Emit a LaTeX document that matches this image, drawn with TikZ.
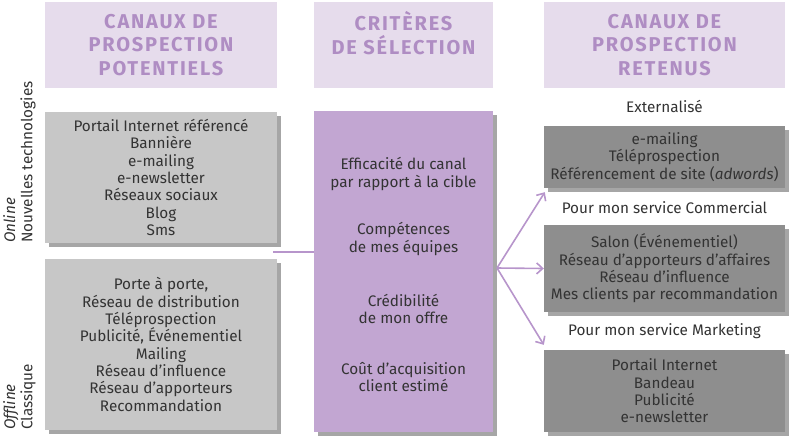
\documentclass[tikz,border=0pt]{standalone}
\usepackage{fontspec}
\setmainfont{Fira Sans}
\newfontfamily\headfont[LetterSpace=9]{Fira Sans}
\usetikzlibrary{shadows,arrows.meta}
\definecolor{hdrfill}{HTML}{E6DCEC}
\definecolor{hdrtext}{HTML}{AF8DC3}
\definecolor{midfill}{HTML}{C2A6D2}
\definecolor{lgray}{HTML}{C7C7C7}
\definecolor{dgray}{HTML}{8E8E8E}
\definecolor{txt}{HTML}{333333}
\definecolor{arr}{HTML}{B795CB}
\begin{document}
\begin{tikzpicture}[x=1pt,y=-1pt,
  hdr/.style={fill=hdrfill,draw=none,align=center,text=hdrtext,font=\headfont\bfseries\fontsize{20}{23.5}\selectfont,inner sep=0pt},
  body/.style={font=\fontsize{15.3}{17.3}\selectfont,text=txt,align=center,inner sep=0pt},
  shad/.style={drop shadow={shadow xshift=4pt,shadow yshift=-4pt,fill=black,opacity=0.35}},
  lbox/.style={body,fill=lgray,shad},
  rbox/.style={body,fill=dgray,shad},
  mbox/.style={fill=midfill,shad,inner sep=0pt},
  conn/.style={draw=arr,line width=1.6pt},
  arw/.style={conn,-{Straight Barb[length=6pt,width=11pt,line width=1.6pt]}},
  side/.style={body,align=left,rotate=90,anchor=north west}
]
\useasboundingbox (0,0) rectangle (800,445);
% headers
\node[hdr,minimum width=232,minimum height=86] (h1) at (161,45) {CANAUX DE\\PROSPECTION\\POTENTIELS};
\node[hdr,minimum width=179,minimum height=86,text depth=24pt] (h2) at (403.5,45) {CRITÈRES\\DE SÉLECTION};
\node[hdr,minimum width=241,minimum height=86] (h3) at (664.5,45) {CANAUX DE\\PROSPECTION\\RETENUS};
% left boxes
\node[lbox,minimum width=232,minimum height=131] (on) at (161,177.5) {Portail Internet référencé\\Bannière\\e-mailing\\e-newsletter\\Réseaux sociaux\\Blog\\Sms};
\node[lbox,minimum width=232,minimum height=171] (off) at (161,344.5) {Porte à porte,\\Réseau de distribution\\Téléprospection\\Publicité, Événementiel\\Mailing\\Réseau d'influence\\Réseau d’apporteurs\\Recommandation};
% side labels
\node[side] (sl1) at (3,243) {\textit{Online}\\Nouvelles technologies};
\node[side] (sl2) at (3,430) {\textit{Offline}\\Classique};
% middle box
\node[mbox,minimum width=179,minimum height=321] (mid) at (403.5,271.5) {};
\node[body] (c1) at (403.5,174) {Efficacité du canal\\par rapport à la cible};
\node[body] (c2) at (403.5,239) {Compétences\\de mes équipes};
\node[body] (c3) at (403.5,309) {Crédibilité\\de mon offre};
\node[body] (c4) at (403.5,377) {Coût d'acquisition\\client estimé};
% right boxes
\node[body] (l1) at (664.5,106) {Externalisé};
\node[rbox,minimum width=241,minimum height=62] (r1) at (664.5,157) {e-mailing\\Téléprospection\\Référencement de site (\textit{adwords})};
\node[body] (l2) at (664.5,208) {Pour mon service Commercial};
\node[rbox,minimum width=241,minimum height=87] (r2) at (664.5,268.5) {Salon (Événementiel)\\Réseau d’apporteurs d’affaires\\Réseau d’influence\\Mes clients par recommandation};
\node[body] (l3) at (664.5,331) {Pour mon service Marketing};
\node[rbox,minimum width=241,minimum height=82] (r3) at (664.5,391) {Portail Internet\\Bandeau\\Publicité\\e-newsletter};
% connectors
\coordinate (lj) at (273,252);
\draw[conn] (lj) -- (lj -| mid.west);
\coordinate (fan) at (497,268);
\draw[arw] (fan) -- ([shift={(1,4)}]r1.south west);
\draw[arw] (fan) -- (r2.west);
\draw[arw] (fan) -- ([shift={(0,-5)}]r3.north west);
\end{tikzpicture}
\end{document}
